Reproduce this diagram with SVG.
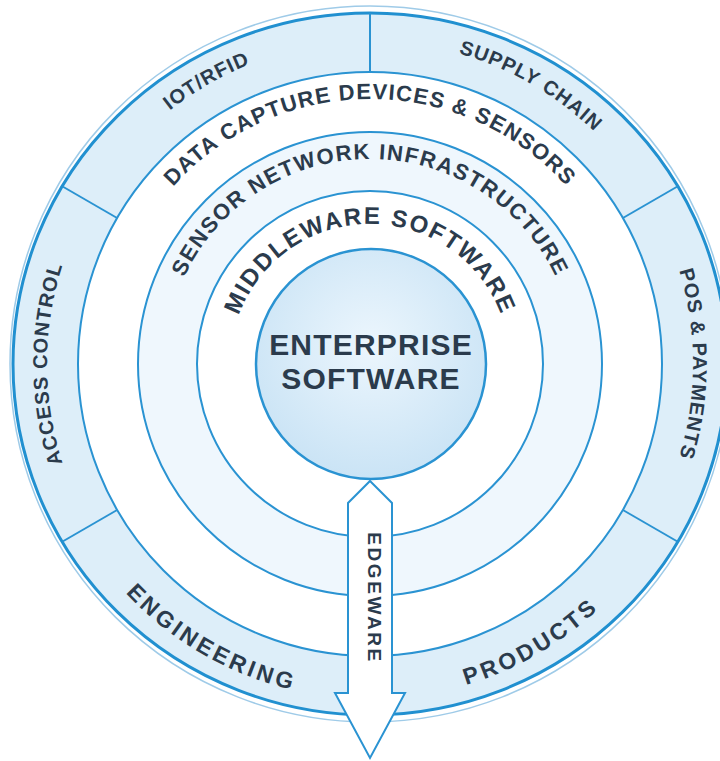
<svg xmlns="http://www.w3.org/2000/svg" width="720" height="761" viewBox="0 0 720 761">
<defs>
<radialGradient id="entGrad" cx="50%" cy="42%" r="60%">
<stop offset="0" stop-color="#ecf6fd"/>
<stop offset="1" stop-color="#c9e3f5"/>
</radialGradient>
<path id="pOuterCW" d="M370,687 A323,323 0 0 1 370,41 A323,323 0 0 1 370,687"/>
<path id="pOuterCCW" d="M370,29 A335,335 0 0 0 370,699 A335,335 0 0 0 370,29"/>
<path id="pData" d="M370,629 A265,265 0 0 1 370,99 A265,265 0 0 1 370,629"/>
<path id="pSensor" d="M370,569 A205,205 0 0 1 370,159 A205,205 0 0 1 370,569"/>
<path id="pMiddle" d="M370,504 A140,140 0 0 1 370,224 A140,140 0 0 1 370,504"/>
</defs>
<style>
.ring{stroke:#2a93d2;stroke-width:2}
.div{stroke:#2a93d2;stroke-width:2;fill:none}
.lbl{font-family:"Liberation Sans",Arial,sans-serif;font-weight:bold;fill:#2b3b4c}
.outer{font-size:20px;letter-spacing:1px}
.outerB{font-size:23px;letter-spacing:3.3px}
.band{font-size:22px;letter-spacing:1.2px}
.sens{font-size:22px;letter-spacing:1.5px}
.mid{font-size:24px;letter-spacing:1.8px}
.ent{font-size:30px;letter-spacing:1.2px}
</style>
<g id="outer-ring">
<ellipse cx="370" cy="364" rx="360" ry="358" fill="none" stroke="#9fcbe8" stroke-width="1.5"/>
<ellipse cx="370" cy="364" rx="357" ry="351" fill="#ddeef9" stroke="#2190d0" stroke-width="3"/>
<line class="div" x1="370" y1="72" x2="370" y2="13"/>
<line class="div" x1="622.9" y1="218" x2="677.4" y2="186.5"/>
<line class="div" x1="117.1" y1="218" x2="62.6" y2="186.5"/>
<line class="div" x1="117.1" y1="510" x2="62.6" y2="541.5"/>
<line class="div" x1="622.9" y1="510" x2="677.4" y2="541.5"/>
</g>
<g id="iot-rfid"><text class="lbl outer" text-anchor="middle"><textPath href="#pOuterCW" startOffset="41.67%">IOT/RFID</textPath></text></g>
<g id="supply-chain"><text class="lbl outer" text-anchor="middle"><textPath href="#pOuterCW" startOffset="58.33%">SUPPLY CHAIN</textPath></text></g>
<g id="access-control"><text class="lbl outer" text-anchor="middle"><textPath href="#pOuterCW" startOffset="25%">ACCESS CONTROL</textPath></text></g>
<g id="pos-payments"><text class="lbl outer" text-anchor="middle"><textPath href="#pOuterCW" startOffset="75%">POS &amp; PAYMENTS</textPath></text></g>
<g id="engineering"><text class="lbl outerB" text-anchor="middle"><textPath href="#pOuterCCW" startOffset="41.67%">ENGINEERING</textPath></text></g>
<g id="products"><text class="lbl outerB" text-anchor="middle"><textPath href="#pOuterCCW" startOffset="58.33%">PRODUCTS</textPath></text></g>
<g id="data-capture">
<circle class="ring" cx="370" cy="364" r="292" fill="#ffffff"/>
<text class="lbl band" text-anchor="middle"><textPath href="#pData" startOffset="50%">DATA CAPTURE DEVICES &amp; SENSORS</textPath></text>
</g>
<g id="sensor-network">
<circle class="ring" cx="370" cy="364" r="232" fill="#eff7fd"/>
<text class="lbl sens" text-anchor="middle"><textPath href="#pSensor" startOffset="50%">SENSOR NETWORK INFRASTRUCTURE</textPath></text>
</g>
<g id="middleware">
<circle class="ring" cx="370" cy="364" r="173" fill="#ffffff"/>
<text class="lbl mid" text-anchor="middle"><textPath href="#pMiddle" startOffset="50%">MIDDLEWARE SOFTWARE</textPath></text>
</g>
<g id="enterprise">
<circle cx="371" cy="364" r="115" fill="url(#entGrad)" stroke="#2a93d2" stroke-width="2.5"/>
<text class="lbl ent" x="371" y="355" text-anchor="middle">ENTERPRISE</text>
<text class="lbl ent" x="371" y="389" text-anchor="middle">SOFTWARE</text>
</g>
<g id="connectors">
<polygon points="370,481 392,503 392,693 405,693 370,758 335,693 348,693 348,503" fill="#ffffff" stroke="#2a93d2" stroke-width="2" stroke-linejoin="miter"/>
<text class="lbl" x="368" y="598" transform="rotate(90 368 598)" text-anchor="middle" style="font-size:19px;letter-spacing:2.6px">EDGEWARE</text>
</g>
</svg>
